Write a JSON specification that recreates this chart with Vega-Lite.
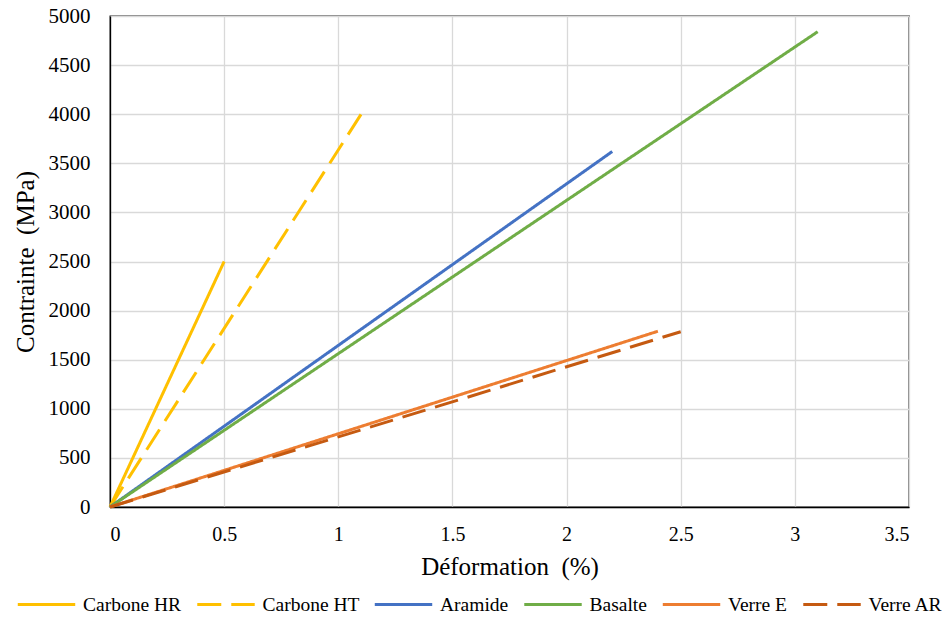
{
  "$schema": "https://vega.github.io/schema/vega-lite/v6.json",
  "width": 799,
  "height": 491,
  "autosize": {"type": "none"},
  "padding": {"left": 110, "top": 16, "right": 35, "bottom": 118},
  "background": "white",
  "config": {
    "font": "Liberation Serif",
    "view": {"stroke": "black", "strokeWidth": 1.3}
  },
  "data": {
    "values": [
      {"serie": "Carbone HR", "def": 0, "contrainte": 0},
      {"serie": "Carbone HR", "def": 0.5, "contrainte": 2500},
      {"serie": "Carbone HT", "def": 0, "contrainte": 0},
      {"serie": "Carbone HT", "def": 1.1, "contrainte": 4000},
      {"serie": "Aramide", "def": 0, "contrainte": 0},
      {"serie": "Aramide", "def": 2.2, "contrainte": 3620},
      {"serie": "Basalte", "def": 0, "contrainte": 0},
      {"serie": "Basalte", "def": 3.1, "contrainte": 4840},
      {"serie": "Verre E", "def": 0, "contrainte": 0},
      {"serie": "Verre E", "def": 2.4, "contrainte": 1790},
      {"serie": "Verre AR", "def": 0, "contrainte": 0},
      {"serie": "Verre AR", "def": 2.5, "contrainte": 1785}
    ]
  },
  "mark": {"type": "line", "strokeWidth": 3, "strokeCap": "butt"},
  "encoding": {
    "x": {
      "field": "def", "type": "quantitative",
      "scale": {"domain": [0, 3.5], "nice": false},
      "axis": {
        "values": [0, 0.5, 1, 1.5, 2, 2.5, 3, 3.5],
        "format": "~g",
        "title": "Déformation\u00a0\u00a0(%)",
        "titleFont": "Liberation Serif", "titleFontSize": 25, "titleFontWeight": "normal", "titleColor": "black",
        "titlePadding": 10,
        "labelFont": "Liberation Serif", "labelFontSize": 20, "labelColor": "black", "labelPadding": 17,
        "ticks": false,
        "domainColor": "black", "domainWidth": 1.3,
        "gridColor": "#d9d9d9", "gridWidth": 1.3
      }
    },
    "y": {
      "field": "contrainte", "type": "quantitative",
      "scale": {"domain": [0, 5000], "nice": false},
      "axis": {
        "values": [0, 500, 1000, 1500, 2000, 2500, 3000, 3500, 4000, 4500, 5000],
        "format": "d",
        "title": "Contrainte\u00a0\u00a0(MPa)",
        "titleFont": "Liberation Serif", "titleFontSize": 25, "titleFontWeight": "normal", "titleColor": "black",
        "titlePadding": 10,
        "labelFont": "Liberation Serif", "labelFontSize": 21, "labelColor": "black", "labelPadding": 20,
        "ticks": false,
        "domainColor": "black", "domainWidth": 1.3,
        "gridColor": "#d9d9d9", "gridWidth": 1.3
      }
    },
    "color": {
      "field": "serie", "type": "nominal",
      "scale": {
        "domain": ["Carbone HR", "Carbone HT", "Aramide", "Basalte", "Verre E", "Verre AR"],
        "range": ["#FFC000", "#FFC000", "#4472C4", "#70AD47", "#ED7D31", "#C55A11"]
      },
      "legend": {
        "title": null,
        "orient": "none",
        "legendX": -94,
        "legendY": 558,
        "direction": "horizontal",
        "columns": 6,
        "symbolType": "stroke",
        "symbolSize": 3300,
        "symbolStrokeWidth": 3,
        "labelFont": "Liberation Serif",
        "labelFontSize": 19.5,
        "labelColor": "black",
        "labelOffset": 6,
        "columnPadding": 8.5
      }
    },
    "strokeDash": {
      "field": "serie", "type": "nominal",
      "scale": {
        "domain": ["Carbone HR", "Carbone HT", "Aramide", "Basalte", "Verre E", "Verre AR"],
        "range": [[1, 0], [24, 10], [1, 0], [1, 0], [1, 0], [24, 10]]
      },
      "legend": {
        "title": null,
        "orient": "none",
        "legendX": -94,
        "legendY": 558,
        "direction": "horizontal",
        "columns": 6,
        "symbolType": "stroke",
        "symbolSize": 3300,
        "symbolStrokeWidth": 3,
        "labelFont": "Liberation Serif",
        "labelFontSize": 19.5,
        "labelColor": "black",
        "labelOffset": 6,
        "columnPadding": 8.5
      }
    }
  }
}
